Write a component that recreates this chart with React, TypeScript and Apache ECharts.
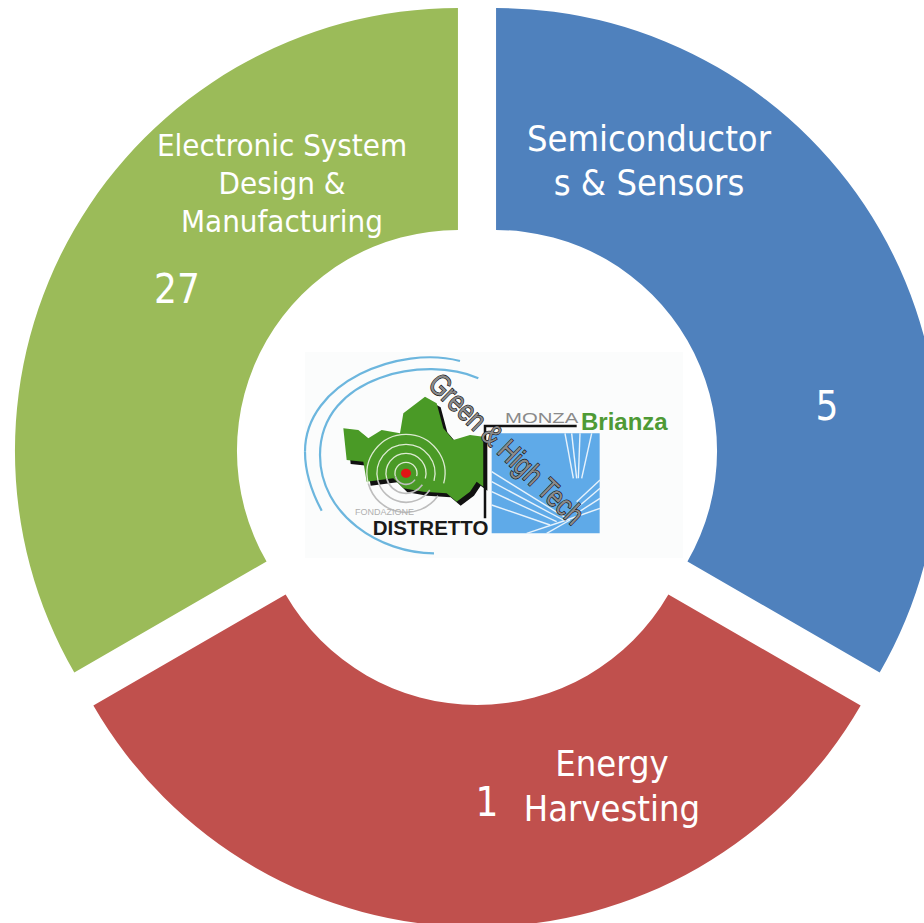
import React, { useEffect, useRef } from "react";
import * as echarts from "echarts";

const categories = ["Semiconductors & Sensors", "Energy Harvesting", "Electronic System Design & Manufacturing"];
const categoryLines = [["Semiconductor", "s & Sensors"], ["Energy", "Harvesting"], ["Electronic System", "Design &", "Manufacturing"]];
const counts = [5, 1, 27];
const sliceShares = [1, 1, 1];
const colors = ["#4F81BD", "#C0504D", "#9BBB59"];

const FONT = "'DejaVu Sans Condensed', 'DejaVu Sans', sans-serif";
const CX = 477, CY = 462, OUTER = 443, INNER = 221, EXPLODE = 22;

const z = (x: number, y: number): [number, number] => [300 + x / 3, 345 + y / 3];
const zl = (pts: number[][]) => pts.map(([x, y]) => z(x, y));
const deg = (d: number) => (d * Math.PI) / 180;

const swooshes = [
  [[480,48],[300,0],[15,110],[15,320]],
  [[15,320],[15,385],[40,450],[65,497]],
  [[535,100],[380,30],[60,90],[60,330]],
  [[60,330],[60,510],[240,625],[402,625]],
];
const mapOutline = [[130,250],[175,255],[205,280],[245,255],[300,265],[310,205],[375,155],[410,175],[430,250],[460,285],[510,270],[550,275],[550,425],[530,410],[510,440],[470,470],[440,445],[370,440],[310,430],[280,400],[200,410],[190,350],[140,345]];
const fanLines = [
  [[795,265],[820,400]],[[815,265],[830,400]],[[840,265],[835,400]],[[875,265],[845,400]],
  [[575,380],[800,520]],[[575,410],[790,525]],[[575,440],[770,530]],[[575,480],[750,540]],
  [[900,405],[830,470]],[[900,430],[830,490]],[[900,460],[830,505]],[[900,490],[800,525]],[[680,565],[800,525]],[[740,565],[810,525]],
];

function logo(): any[] {
  const [sx, sy] = z(575, 265);
  const [rcx, rcy] = z(318, 385);
  const ringRadii = [11, 20, 29, 39];
  const els: any[] = [
    { type: "rect", shape: { x: 305, y: 352, width: 378, height: 206 }, style: { fill: "#FBFCFC" } },
  ];
  swooshes.forEach((s) => {
    const [a, b, c, d] = zl(s);
    els.push({ type: "bezierCurve", shape: { x1: a[0], y1: a[1], cpx1: b[0], cpy1: b[1], cpx2: c[0], cpy2: c[1], x2: d[0], y2: d[1] }, style: { stroke: "#6CB6DE", lineWidth: 2.2, fill: "none" } });
  });
  els.push(
    { type: "polygon", x: 4, y: 4, shape: { points: zl(mapOutline) }, style: { fill: "#111111" } },
    { type: "polygon", shape: { points: zl(mapOutline) }, style: { fill: "#4A9A26" } },
    { type: "rect", shape: { x: sx, y: sy, width: 108, height: 100 }, style: { fill: "#5FAAE8" } },
  );
  fanLines.forEach((p) => els.push({ type: "polyline", shape: { points: zl(p) }, style: { stroke: "#E8F3FC", lineWidth: 1.4, fill: "none" } }));
  ringRadii.forEach((r) => {
    els.push({ type: "arc", shape: { cx: rcx, cy: rcy, r, startAngle: deg(165), endAngle: deg(375), clockwise: true }, style: { stroke: "#DDEBD2", lineWidth: 1.3, fill: "none" } });
    els.push({ type: "arc", shape: { cx: rcx, cy: rcy, r, startAngle: deg(35), endAngle: deg(165), clockwise: true }, style: { stroke: "#BDBDBD", lineWidth: 1.6, fill: "none" } });
  });
  els.push({ type: "ellipse", shape: { cx: rcx, cy: rcy, rx: 5, ry: 4.5 }, style: { fill: "#E01515" } });
  els.push({ type: "polyline", shape: { points: zl([[830,243],[555,243],[555,520]]) }, style: { stroke: "#111111", lineWidth: 2.5, fill: "none" } });
  const txt = (s: string, x: number, y: number, size: number, fill: string, weight: any = "normal", scaleX = 1) => {
    const [px, py] = z(x, y);
    els.push({ type: "text", x: px, y: py, scaleX, style: { text: s, fontFamily: "'Liberation Sans', Arial, sans-serif", fontSize: size, fontWeight: weight, fill, textAlign: "left", textVerticalAlign: "middle" } });
  };
  txt("MONZA", 615, 220, 14.5, "#8A8A8A", "normal", 1.4);
  txt("Brianza", 843, 230, 24, "#4E9A35", "bold");
  txt("FONDAZIONE", 165, 500, 9, "#B0B0B0");
  txt("DISTRETTO", 218, 548, 20.5, "#1A1A1A", "bold");
  const [gx, gy] = z(402, 100);
  els.push({ type: "text", x: gx, y: gy, rotation: deg(-44), scaleX: 0.8, style: { text: "Green & High Tech", fontFamily: "'Liberation Sans', Arial, sans-serif", fontSize: 30, fill: "#8A8A8A", stroke: "#151515", lineWidth: 1.4, textAlign: "left", textVerticalAlign: "middle" } });
  return els;
}

const labelLayout = [
  { x: 649, ys: [138, 182], size: 36, numX: 827, numY: 406 },
  { x: 612, ys: [763, 808], size: 36, numX: 487, numY: 802 },
  { x: 282, ys: [145, 183, 221], size: 31, numX: 177, numY: 289 },
];

function labels(): any[] {
  const els: any[] = [];
  categoryLines.forEach((lines, i) => {
    const l = labelLayout[i];
    lines.forEach((t, j) => els.push({ type: "text", x: l.x, y: l.ys[j], style: { text: t, fontFamily: FONT, fontSize: l.size, fill: "#FFFFFF", textAlign: "center", textVerticalAlign: "middle" } }));
    els.push({ type: "text", x: l.numX, y: l.numY, style: { text: String(counts[i]), fontFamily: FONT, fontSize: 40, fill: "#FFFFFF", textAlign: "center", textVerticalAlign: "middle" } });
  });
  return els;
}

export default function App() {
  const ref = useRef<HTMLDivElement>(null);
  useEffect(() => {
    document.body.style.margin = "0";
    const chart = echarts.init(ref.current!, undefined, { renderer: "svg" });
    chart.setOption({
      animation: false,
      backgroundColor: "#FFFFFF",
      series: [{
        type: "pie",
        center: [CX, CY],
        radius: [INNER, OUTER],
        startAngle: 90,
        clockwise: true,
        silent: true,
        selectedMode: "multiple",
        selectedOffset: EXPLODE,
        label: { show: false },
        labelLine: { show: false },
        data: categories.map((name, i) => ({
          name,
          value: sliceShares[i],
          selected: true,
          itemStyle: { color: colors[i] },
          select: { itemStyle: { color: colors[i], borderWidth: 0 } },
        })),
      }],
      graphic: { elements: [...labels(), ...logo()].map((e, i) => ({ ...e, z: 100 + i })) },
    });
    return () => chart.dispose();
  }, []);
  return <div ref={ref} style={{ width: 924, height: 923 }} />;
}
